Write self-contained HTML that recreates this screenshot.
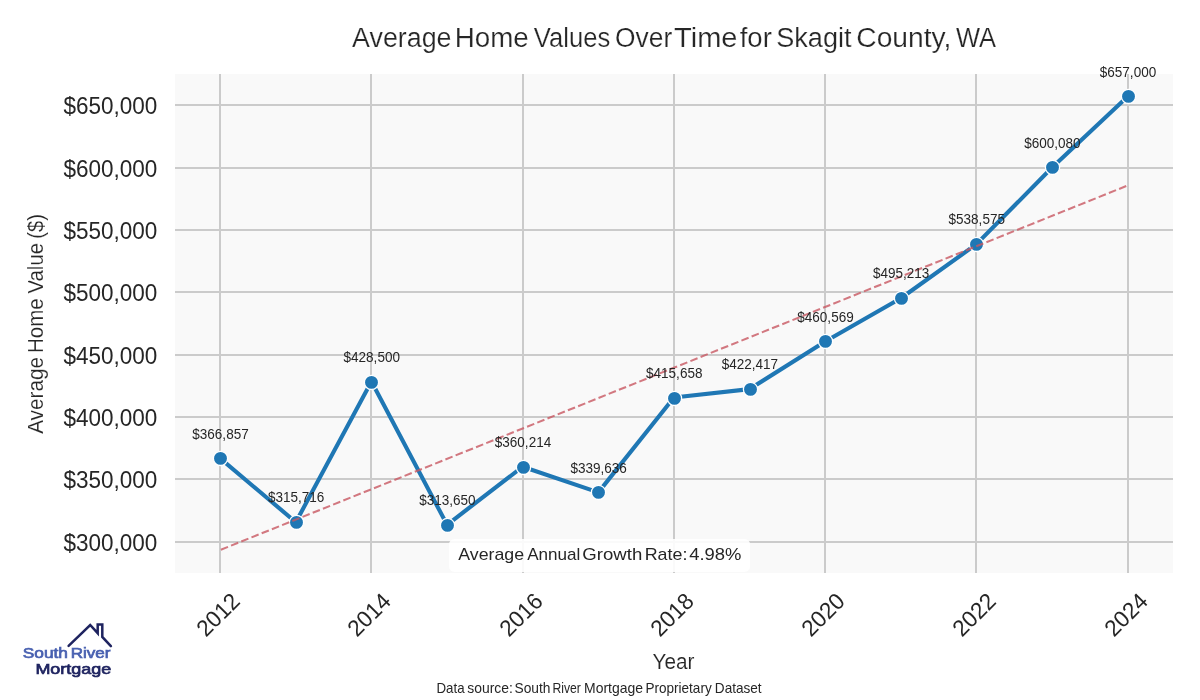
<!DOCTYPE html>
<html lang="en"><head><meta charset="utf-8"><title>Average Home Values Over Time for Skagit County, WA</title>
<style>
html,body{margin:0;padding:0;background:#fff;}
body{width:1200px;height:700px;overflow:hidden;}
svg{display:block;will-change:transform;}
text{font-family:"Liberation Sans",sans-serif;fill:#262626;white-space:pre;}
</style></head><body>
<svg width="1200" height="700" viewBox="0 0 1200 700">
<rect width="1200" height="700" fill="#ffffff"/>
<rect x="175.0" y="74.0" width="998.0" height="499.0" fill="#f9f9f9"/>
<g stroke="#cbcbcb" stroke-width="2" fill="none">
<line x1="220.00" y1="74.0" x2="220.00" y2="573.0"/>
<line x1="371.00" y1="74.0" x2="371.00" y2="573.0"/>
<line x1="523.00" y1="74.0" x2="523.00" y2="573.0"/>
<line x1="674.00" y1="74.0" x2="674.00" y2="573.0"/>
<line x1="825.00" y1="74.0" x2="825.00" y2="573.0"/>
<line x1="976.00" y1="74.0" x2="976.00" y2="573.0"/>
<line x1="1128.00" y1="74.0" x2="1128.00" y2="573.0"/>
<line x1="175.0" y1="542.00" x2="1173.0" y2="542.00"/>
<line x1="175.0" y1="479.00" x2="1173.0" y2="479.00"/>
<line x1="175.0" y1="417.00" x2="1173.0" y2="417.00"/>
<line x1="175.0" y1="355.00" x2="1173.0" y2="355.00"/>
<line x1="175.0" y1="292.00" x2="1173.0" y2="292.00"/>
<line x1="175.0" y1="230.00" x2="1173.0" y2="230.00"/>
<line x1="175.0" y1="168.00" x2="1173.0" y2="168.00"/>
<line x1="175.0" y1="105.00" x2="1173.0" y2="105.00"/>
</g>
<polyline points="220.20,458.40 295.82,522.20 371.45,381.50 447.07,524.78 522.70,466.69 598.33,492.36 673.95,397.52 749.58,389.09 825.20,341.49 900.83,298.28 976.45,244.18 1052.08,167.45 1127.70,96.45" fill="none" stroke="#1f77b4" stroke-width="4.1" stroke-linejoin="round" stroke-linecap="round"/>
<circle cx="220.50" cy="458.40" r="7.1" fill="#1f77b4" stroke="#ffffff" stroke-width="1.3"/>
<circle cx="296.50" cy="522.40" r="7.1" fill="#1f77b4" stroke="#ffffff" stroke-width="1.3"/>
<circle cx="371.50" cy="382.40" r="7.1" fill="#1f77b4" stroke="#ffffff" stroke-width="1.3"/>
<circle cx="447.50" cy="525.40" r="7.1" fill="#1f77b4" stroke="#ffffff" stroke-width="1.3"/>
<circle cx="523.50" cy="467.40" r="7.1" fill="#1f77b4" stroke="#ffffff" stroke-width="1.3"/>
<circle cx="598.50" cy="492.40" r="7.1" fill="#1f77b4" stroke="#ffffff" stroke-width="1.3"/>
<circle cx="674.50" cy="398.40" r="7.1" fill="#1f77b4" stroke="#ffffff" stroke-width="1.3"/>
<circle cx="750.50" cy="389.40" r="7.1" fill="#1f77b4" stroke="#ffffff" stroke-width="1.3"/>
<circle cx="825.50" cy="341.40" r="7.1" fill="#1f77b4" stroke="#ffffff" stroke-width="1.3"/>
<circle cx="901.50" cy="298.40" r="7.1" fill="#1f77b4" stroke="#ffffff" stroke-width="1.3"/>
<circle cx="976.50" cy="244.40" r="7.1" fill="#1f77b4" stroke="#ffffff" stroke-width="1.3"/>
<circle cx="1052.50" cy="167.40" r="7.1" fill="#1f77b4" stroke="#ffffff" stroke-width="1.3"/>
<circle cx="1128.50" cy="96.40" r="7.1" fill="#1f77b4" stroke="#ffffff" stroke-width="1.3"/>
<line x1="220.20" y1="549.96" x2="1127.70" y2="185.48" stroke="#c85862" stroke-opacity="0.8" stroke-width="2.05" stroke-dasharray="7.7 3.3" stroke-dashoffset="-0.7"/>
<rect x="449" y="539" width="301.1" height="32.9" rx="5.5" ry="5.5" fill="#ffffff" fill-opacity="0.9"/>
<text id="growth" y="559.8" font-size="17.0"><tspan x="458.24" textLength="65.83" lengthAdjust="spacingAndGlyphs">Average</tspan> <tspan x="527.22" textLength="53.19" lengthAdjust="spacingAndGlyphs">Annual</tspan> <tspan x="582.36" textLength="59.96" lengthAdjust="spacingAndGlyphs">Growth</tspan> <tspan x="644.73" textLength="42.65" lengthAdjust="spacingAndGlyphs">Rate:</tspan> <tspan x="689.15" textLength="52.21" lengthAdjust="spacingAndGlyphs">4.98%</tspan></text>
<text x="192.30" y="438.60" font-size="15.4" textLength="56.4" lengthAdjust="spacingAndGlyphs">$366,857</text>
<text x="267.93" y="502.40" font-size="15.4" textLength="56.4" lengthAdjust="spacingAndGlyphs">$315,716</text>
<text x="343.55" y="361.70" font-size="15.4" textLength="56.4" lengthAdjust="spacingAndGlyphs">$428,500</text>
<text x="419.18" y="504.98" font-size="15.4" textLength="56.4" lengthAdjust="spacingAndGlyphs">$313,650</text>
<text x="494.80" y="446.89" font-size="15.4" textLength="56.4" lengthAdjust="spacingAndGlyphs">$360,214</text>
<text x="570.42" y="472.56" font-size="15.4" textLength="56.4" lengthAdjust="spacingAndGlyphs">$339,636</text>
<text x="646.05" y="377.72" font-size="15.4" textLength="56.4" lengthAdjust="spacingAndGlyphs">$415,658</text>
<text x="721.67" y="369.29" font-size="15.4" textLength="56.4" lengthAdjust="spacingAndGlyphs">$422,417</text>
<text x="797.30" y="321.69" font-size="15.4" textLength="56.4" lengthAdjust="spacingAndGlyphs">$460,569</text>
<text x="872.92" y="278.48" font-size="15.4" textLength="56.4" lengthAdjust="spacingAndGlyphs">$495,213</text>
<text x="948.55" y="224.38" font-size="15.4" textLength="56.4" lengthAdjust="spacingAndGlyphs">$538,575</text>
<text x="1024.17" y="147.65" font-size="15.4" textLength="56.4" lengthAdjust="spacingAndGlyphs">$600,080</text>
<text x="1099.80" y="76.65" font-size="15.4" textLength="56.4" lengthAdjust="spacingAndGlyphs">$657,000</text>
<text x="63.40" y="550.60" font-size="23.1" textLength="93.9" lengthAdjust="spacingAndGlyphs">$300,000</text>
<text x="63.40" y="487.60" font-size="23.1" textLength="93.9" lengthAdjust="spacingAndGlyphs">$350,000</text>
<text x="63.40" y="425.60" font-size="23.1" textLength="93.9" lengthAdjust="spacingAndGlyphs">$400,000</text>
<text x="63.40" y="363.60" font-size="23.1" textLength="93.9" lengthAdjust="spacingAndGlyphs">$450,000</text>
<text x="63.40" y="300.60" font-size="23.1" textLength="93.9" lengthAdjust="spacingAndGlyphs">$500,000</text>
<text x="63.40" y="238.60" font-size="23.1" textLength="93.9" lengthAdjust="spacingAndGlyphs">$550,000</text>
<text x="63.40" y="176.60" font-size="23.1" textLength="93.9" lengthAdjust="spacingAndGlyphs">$600,000</text>
<text x="63.40" y="113.60" font-size="23.1" textLength="93.9" lengthAdjust="spacingAndGlyphs">$650,000</text>
<text transform="translate(218.00,614.6) rotate(-45)" x="-24.80" y="7.95" font-size="23.1" textLength="49.6" lengthAdjust="spacingAndGlyphs">2012</text>
<text transform="translate(369.00,614.6) rotate(-45)" x="-24.80" y="7.95" font-size="23.1" textLength="49.6" lengthAdjust="spacingAndGlyphs">2014</text>
<text transform="translate(521.00,614.6) rotate(-45)" x="-24.80" y="7.95" font-size="23.1" textLength="49.6" lengthAdjust="spacingAndGlyphs">2016</text>
<text transform="translate(672.00,614.6) rotate(-45)" x="-24.80" y="7.95" font-size="23.1" textLength="49.6" lengthAdjust="spacingAndGlyphs">2018</text>
<text transform="translate(823.00,614.6) rotate(-45)" x="-24.80" y="7.95" font-size="23.1" textLength="49.6" lengthAdjust="spacingAndGlyphs">2020</text>
<text transform="translate(974.00,614.6) rotate(-45)" x="-24.80" y="7.95" font-size="23.1" textLength="49.6" lengthAdjust="spacingAndGlyphs">2022</text>
<text transform="translate(1126.00,614.6) rotate(-45)" x="-24.80" y="7.95" font-size="23.1" textLength="49.6" lengthAdjust="spacingAndGlyphs">2024</text>
<text id="title" y="46.7" font-size="27.0" style="stroke:#fff;stroke-width:0.2px"><tspan x="352.09" textLength="99.41" lengthAdjust="spacingAndGlyphs">Average</tspan> <tspan x="454.81" textLength="74.00" lengthAdjust="spacingAndGlyphs">Home</tspan> <tspan x="533.85" textLength="76.34" lengthAdjust="spacingAndGlyphs">Values</tspan> <tspan x="615.04" textLength="57.14" lengthAdjust="spacingAndGlyphs">Over</tspan> <tspan x="674.05" textLength="63.42" lengthAdjust="spacingAndGlyphs">Time</tspan> <tspan x="739.67" textLength="32.17" lengthAdjust="spacingAndGlyphs">for</tspan> <tspan x="776.28" textLength="75.28" lengthAdjust="spacingAndGlyphs">Skagit</tspan> <tspan x="856.27" textLength="95.15" lengthAdjust="spacingAndGlyphs">County,</tspan> <tspan x="955.96" textLength="40.13" lengthAdjust="spacingAndGlyphs">WA</tspan></text>
<text id="xlabel" y="668.6" font-size="21.3" style="stroke:#fff;stroke-width:0.12px"><tspan x="652.47" textLength="41.95" lengthAdjust="spacingAndGlyphs">Year</tspan></text>
<text id="ylabel" transform="rotate(-90)" y="42.9" font-size="21.3" style="stroke:#fff;stroke-width:0.12px"><tspan x="-433.87" textLength="76.94" lengthAdjust="spacingAndGlyphs">Average</tspan> <tspan x="-352.95" textLength="54.49" lengthAdjust="spacingAndGlyphs">Home</tspan> <tspan x="-293.49" textLength="50.49" lengthAdjust="spacingAndGlyphs">Value</tspan> <tspan x="-238.72" textLength="24.57" lengthAdjust="spacingAndGlyphs">($)</tspan></text>
<text id="foot" y="693.0" font-size="14.6"><tspan x="436.51" textLength="28.11" lengthAdjust="spacingAndGlyphs">Data</tspan> <tspan x="467.28" textLength="45.61" lengthAdjust="spacingAndGlyphs">source:</tspan> <tspan x="514.49" textLength="35.97" lengthAdjust="spacingAndGlyphs">South</tspan> <tspan x="552.48" textLength="28.41" lengthAdjust="spacingAndGlyphs">River</tspan> <tspan x="584.03" textLength="59.02" lengthAdjust="spacingAndGlyphs">Mortgage</tspan> <tspan x="645.40" textLength="66.32" lengthAdjust="spacingAndGlyphs">Proprietary</tspan> <tspan x="714.84" textLength="46.80" lengthAdjust="spacingAndGlyphs">Dataset</tspan></text>
<path d="M68.6 645.8 L90.2 625 L97.7 633.2 L97.7 624.6 L102.3 624.6 L102.3 636.9 L110.9 646.2" fill="none" stroke="#1f2460" stroke-width="2.5" stroke-linejoin="miter" stroke-linecap="round"/>
<text id="logo1" y="658.1" font-size="15.3" style="fill:#4860b0;stroke:#4860b0;stroke-width:0.7px"><tspan x="22.72" textLength="45.27" lengthAdjust="spacingAndGlyphs">South</tspan> <tspan x="70.70" textLength="39.81" lengthAdjust="spacingAndGlyphs">River</tspan></text>
<text id="logo2" y="674.0" font-size="15.3" style="fill:#1f2460;stroke:#1f2460;stroke-width:0.7px"><tspan x="35.41" textLength="75.72" lengthAdjust="spacingAndGlyphs">Mortgage</tspan></text>
</svg></body></html>
